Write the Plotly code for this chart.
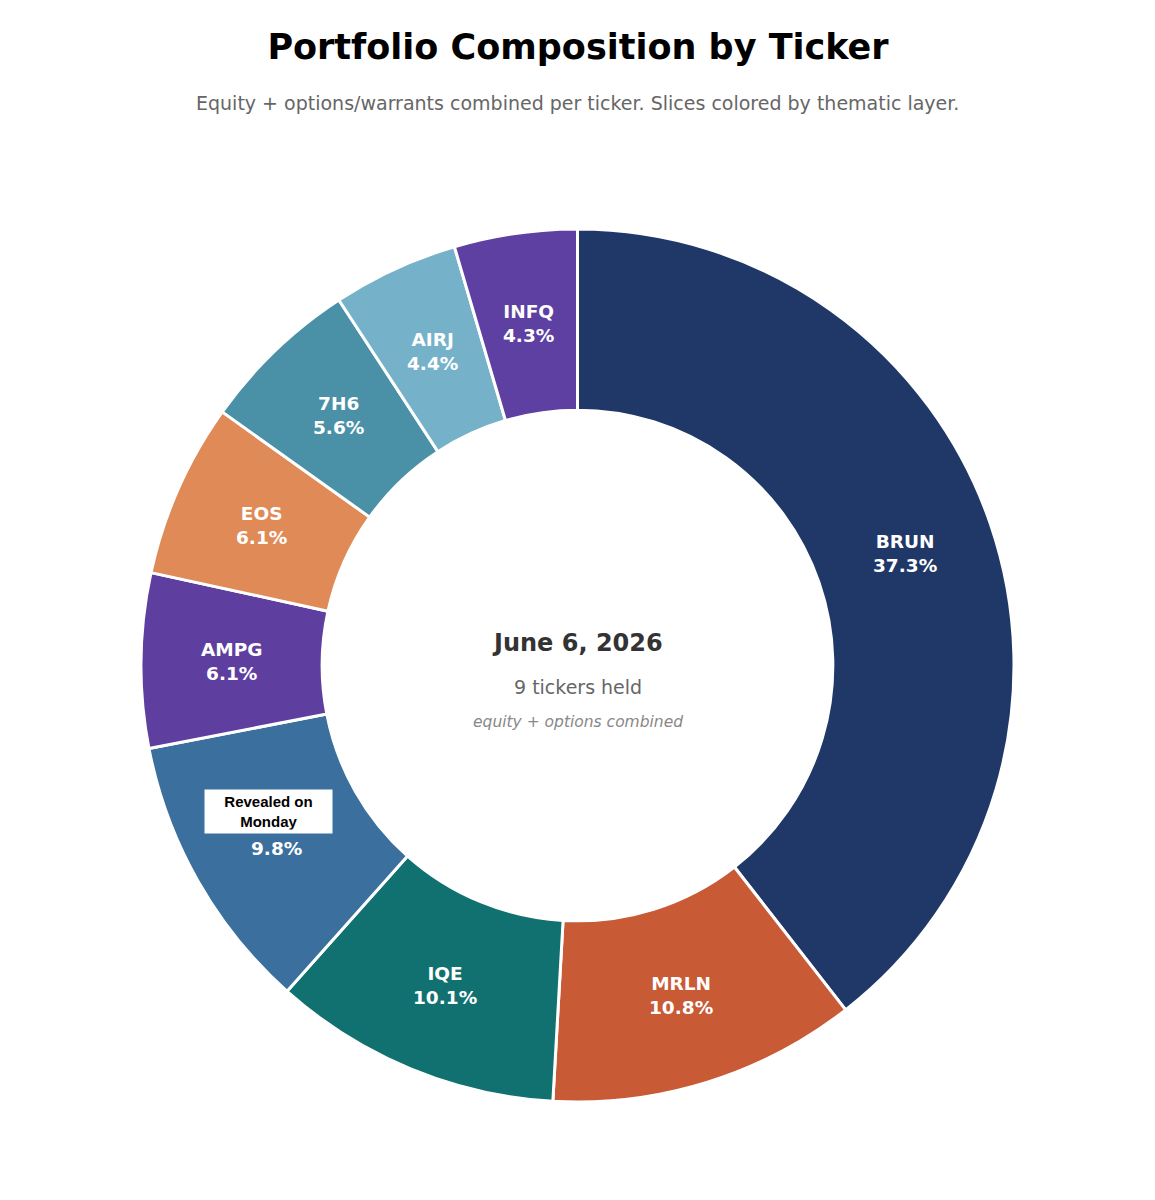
import math
import plotly.graph_objects as go

# Tickers and weights (percent of portfolio, equity + options combined)
tickers = ["BRUN", "MRLN", "IQE", "Revealed on Monday", "AMPG", "EOS", "7H6", "AIRJ", "INFQ"]
weights = [37.3, 10.8, 10.1, 9.8, 6.1, 6.1, 5.6, 4.4, 4.3]
colors = ["#1f3868", "#c85a35", "#117170", "#3b6f9d", "#5e3fa0",
          "#e08a58", "#4a91a8", "#75b2c9", "#5e3fa2"]
hidden = "Revealed on Monday"

as_of = "June 6, 2026"
HOLE = 0.585

W, H = 1155, 1200
OFF = 8  # page body margin shifts the figure by 8px
L, R, T, B = 141 - OFF, 141 + OFF, 229 - OFF, 98 + OFF
plot_h = H - T - B


def py(pix):
    # target pixel row (page) -> paper y
    return (H - B - (pix - OFF)) / plot_h


fig = go.Figure(go.Pie(
    labels=tickers,
    values=weights,
    textinfo="none",
    hole=HOLE,
    sort=False,
    direction="clockwise",
    rotation=0,
    marker=dict(colors=colors, line=dict(color="white", width=3)),
    showlegend=False,
    hovertemplate="%{label}: %{value}%<extra></extra>",
))

# slice labels at mid-ring radius on each slice bisector
total = sum(weights)
r_mid = 0.5 * (1 + HOLE) / 2
cum = 0
for t, w in zip(tickers, weights):
    theta = 2 * math.pi * (cum + w / 2) / total
    cum += w
    x = 0.5 + r_mid * math.sin(theta)
    y = 0.5 + r_mid * math.cos(theta)
    name = "&nbsp;" if t == hidden else t
    fig.add_annotation(
        x=x, y=y, xref="paper", yref="paper", xanchor="center", yanchor="middle",
        text=f"<b>{name}<br>{w:.1f}%</b>", showarrow=False,
        font=dict(family="DejaVu Sans", size=18.5, color="white"),
    )
    if t == hidden:
        # white box over the ticker name
        fig.add_annotation(
            x=x, y=y, xref="paper", yref="paper", xanchor="center", yanchor="middle",
            xshift=-8, yshift=25,
            text="<b>Revealed on<br>Monday</b>", showarrow=False,
            font=dict(family="Liberation Sans", size=15, color="black"),
            bgcolor="white", borderpad=3, width=121, align="center",
        )

# centre text
centre = [
    (643, f"<b>{as_of}</b>", 24, "#333333"),
    (687, f"{len(tickers)} tickers held", 19, "#666666"),
    (722, "<i>equity + options combined</i>", 15.5, "#888888"),
]
for pix, txt, size, col in centre:
    fig.add_annotation(x=0.5, y=py(pix), xref="paper", yref="paper",
                       xanchor="center", yanchor="middle",
                       text=txt, showarrow=False,
                       font=dict(family="DejaVu Sans", size=size, color=col))

# subtitle
fig.add_annotation(x=0.5, y=py(103), xref="paper", yref="paper",
                   xanchor="center", yanchor="middle",
                   text="Equity + options/warrants combined per ticker. Slices colored by thematic layer.",
                   showarrow=False,
                   font=dict(family="DejaVu Sans", size=19, color="#666666"))

fig.update_layout(
    width=W, height=H,
    margin=dict(l=L, r=R, t=T, b=B),
    paper_bgcolor="white",
    title=dict(text="<b>Portfolio Composition by Ticker</b>",
               x=(578 - OFF) / W, xanchor="center", y=1 - (47 - OFF) / H, yanchor="middle",
               yref="container",
               font=dict(family="DejaVu Sans", size=35, color="black")),
)

fig.write_html("out.html")
